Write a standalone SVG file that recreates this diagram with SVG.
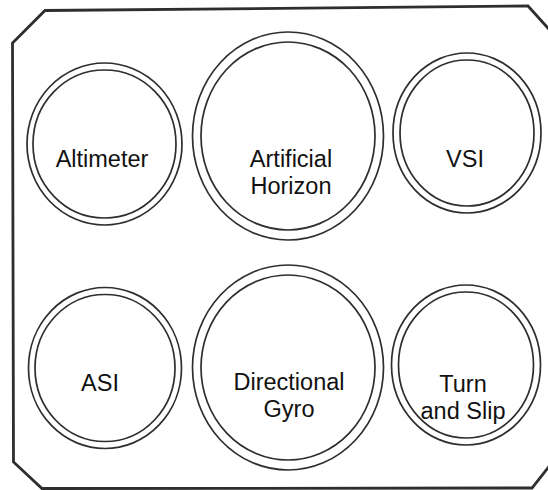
<svg xmlns="http://www.w3.org/2000/svg" width="548" height="490" viewBox="0 0 548 490">
<style>
.panel{fill:none;stroke:#2e2e2e;stroke-width:2.8;stroke-linejoin:miter}
.ring{fill:none;stroke:#2e2e2e;stroke-width:1.7}
.lbl{font-family:"Liberation Sans",Arial,sans-serif;font-size:23.5px;fill:#111;text-anchor:middle}
</style>
<rect width="548" height="490" fill="#fff"/>
<g id="panel">
<path class="panel" d="M 566 48 L 528 6 L 45 10.5 L 12.5 43 L 13.5 462 L 42 488.5 L 532 488 L 566 445"/>
</g>
<g id="altimeter">
<ellipse class="ring" cx="104.5" cy="144" rx="77.5" ry="81"/>
<ellipse class="ring" cx="104.5" cy="144" rx="71.5" ry="74"/>
<text class="lbl" x="102" y="167">Altimeter</text>
</g>
<g id="artificial-horizon">
<ellipse class="ring" cx="288" cy="136" rx="95.5" ry="104"/>
<ellipse class="ring" cx="288" cy="136" rx="87" ry="94"/>
<text class="lbl" x="291" y="167">Artificial</text>
<text class="lbl" x="291" y="193.5">Horizon</text>
</g>
<g id="vsi">
<ellipse class="ring" cx="467" cy="133" rx="74" ry="80"/>
<ellipse class="ring" cx="467" cy="133" rx="67" ry="73"/>
<text class="lbl" x="465" y="167">VSI</text>
</g>
<g id="asi">
<ellipse class="ring" cx="105" cy="368" rx="76.5" ry="80.5"/>
<ellipse class="ring" cx="105" cy="368" rx="70" ry="73.5"/>
<text class="lbl" x="100" y="391">ASI</text>
</g>
<g id="directional-gyro">
<ellipse class="ring" cx="288" cy="367.5" rx="95.5" ry="102.5"/>
<ellipse class="ring" cx="288" cy="367.5" rx="87" ry="92.5"/>
<text class="lbl" x="289" y="390">Directional</text>
<text class="lbl" x="289" y="416.5">Gyro</text>
</g>
<g id="turn-and-slip">
<ellipse class="ring" cx="466" cy="365" rx="74.5" ry="80"/>
<ellipse class="ring" cx="466" cy="365" rx="67.5" ry="73"/>
<text class="lbl" x="463" y="391.5">Turn</text>
<text class="lbl" x="463" y="418.5">and Slip</text>
</g>
<g id="connectors"></g>
</svg>
